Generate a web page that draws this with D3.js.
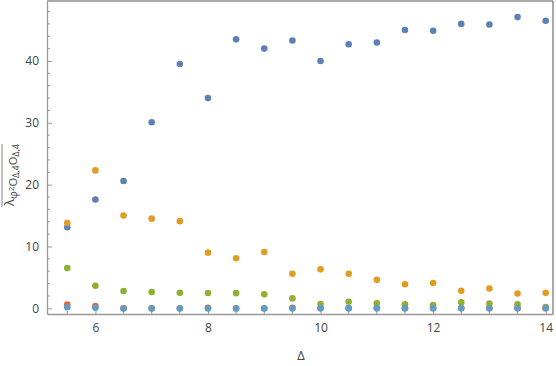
<!DOCTYPE html>
<html>
<head>
<meta charset="utf-8">
<script src="https://cdn.jsdelivr.net/npm/d3@7"></script>
<style>
  body { margin: 0; background: #fff; }
  svg { display: block; }
  .tick text { font-family: "Open Sans", "DejaVu Sans", sans-serif; font-size: 12px; fill: #444; }
</style>
</head>
<body>
<svg id="chart"></svg>
<script>
// ---- data ----
let deltas = [5.5, 6, 6.5, 7, 7.5, 8, 8.5, 9, 9.5, 10, 10.5, 11, 11.5, 12, 12.5, 13, 13.5, 14];
let blueVals = [13.1, 17.6, 20.6, 30.1, 39.5, 34.0, 43.5, 42.0, 43.3, 40.0, 42.7, 43.0, 45.0, 44.9, 46.0, 45.9, 47.1, 46.5];
let orangeVals = [13.8, 22.3, 15.0, 14.5, 14.1, 9.0, 8.1, 9.1, 5.6, 6.3, 5.6, 4.6, 3.9, 4.1, 2.85, 3.2, 2.4, 2.5];
let greenVals = [6.5, 3.65, 2.8, 2.65, 2.5, 2.47, 2.45, 2.26, 1.6, 0.7, 1.05, 0.8, 0.64, 0.53, 0.96, 0.75, 0.64, 0.2];
let redVals = [0.62, 0.38, 0.0, 0.0, 0.0, 0.08, 0.0, 0.0, 0.08, 0.0, 0.0, 0.0, 0.0, 0.0, 0.0, 0.0, 0.0, 0.0];
let lightBlueVals = [0.16, 0.1, -0.05, -0.05, -0.05, -0.02, -0.02, -0.02, -0.03, 0.0, 0.0, 0.0, 0.0, 0.0, 0.0, 0.0, 0.0, 0.0];
let xTicks = [6, 8, 10, 12, 14];
let yTicks = [0, 10, 20, 30, 40];

let series = [
  { values: blueVals, color: "#5e81b5" },
  { values: orangeVals, color: "#e19c24" },
  { values: greenVals, color: "#8fb032" },
  { values: redVals, color: "#eb6235" },
  { values: lightBlueVals, color: "#5d9ec7" }
];

let width = 556;
let height = 366;
let margin = { top: 1, right: 3, bottom: 52, left: 47 };

let svg = d3.select("#chart")
  .attr("width", width)
  .attr("height", height);

let x = d3.scaleLinear()
  .domain([5.14, 14.13])
  .range([margin.left, width - margin.right]);

let y = d3.scaleLinear()
  .domain([-0.92, 49.7])
  .range([height - margin.bottom, margin.top]);

// frame top + right
svg.append("path")
  .attr("d", "M" + margin.left + "," + margin.top + "H" + (width - margin.right) + "V" + (height - margin.bottom))
  .attr("fill", "none")
  .attr("stroke", "#555")
  .attr("stroke-width", 1);

// minor ticks
let xMinor = d3.range(5.5, 14.01, 0.5).filter(d => xTicks.indexOf(d) < 0);
let yMinor = d3.range(2, 49, 2).filter(d => yTicks.indexOf(d) < 0);

let xAxis = svg.append("g")
  .attr("transform", "translate(0," + (height - margin.bottom) + ")")
  .call(d3.axisBottom(x).tickValues(xTicks).tickSize(-5).tickPadding(9).tickSizeOuter(0));

xAxis.selectAll(".minor")
  .data(xMinor)
  .enter()
  .append("line")
  .attr("class", "minor")
  .attr("x1", d => x(d)).attr("x2", d => x(d))
  .attr("y1", 0).attr("y2", -3);

let yAxis = svg.append("g")
  .attr("transform", "translate(" + margin.left + ",0)")
  .call(d3.axisLeft(y).tickValues(yTicks).tickSize(-5).tickPadding(8).tickSizeOuter(0));

yAxis.selectAll(".minor")
  .data(yMinor)
  .enter()
  .append("line")
  .attr("class", "minor")
  .attr("y1", d => y(d)).attr("y2", d => y(d))
  .attr("x1", 0).attr("x2", 3);

svg.selectAll(".domain").attr("stroke", "#999").attr("stroke-width", 1.3);
svg.selectAll(".tick line, line.minor").attr("stroke", "#999");

// points
series.forEach(function (s) {
  svg.append("g")
    .selectAll("circle")
    .data(s.values)
    .enter()
    .append("circle")
    .attr("cx", (d, i) => x(deltas[i]))
    .attr("cy", d => y(d))
    .attr("r", 3.3)
    .attr("fill", s.color);
});

// x label
svg.append("text")
  .attr("x", (margin.left + width - margin.right) / 2 + 1)
  .attr("y", 360)
  .attr("text-anchor", "middle")
  .style("font-family", "'Open Sans', 'DejaVu Sans', sans-serif")
  .style("font-size", "13px")
  .style("fill", "#444")
  .text("\u0394");

// y label, rotated
let yl = svg.append("g")
  .attr("transform", "translate(14,206) rotate(-90)");

let ylText = yl.append("text")
  .style("font-family", "'Open Sans', 'DejaVu Sans', sans-serif")
  .style("fill", "#444")
  .style("font-size", "13px");

ylText.append("tspan").text("\u03bb");
ylText.append("tspan").attr("dy", 3).style("font-size", "11px").text("\u03c6");
ylText.append("tspan").attr("dy", -3).style("font-size", "8px").text("2");
ylText.append("tspan").attr("dy", 3).style("font-size", "11px").text("O");
ylText.append("tspan").attr("dy", 2).style("font-size", "9px").text("\u0394,4");
ylText.append("tspan").attr("dy", -2).style("font-size", "11px").text("O");
ylText.append("tspan").attr("dy", 2).style("font-size", "9px").text("\u0394,4");

let bb = ylText.node().getBBox();
yl.append("line")
  .attr("x1", bb.x).attr("x2", bb.x + bb.width)
  .attr("y1", -12).attr("y2", -12)
  .attr("stroke", "#666")
  .attr("stroke-width", 0.8);
</script>
</body>
</html>
